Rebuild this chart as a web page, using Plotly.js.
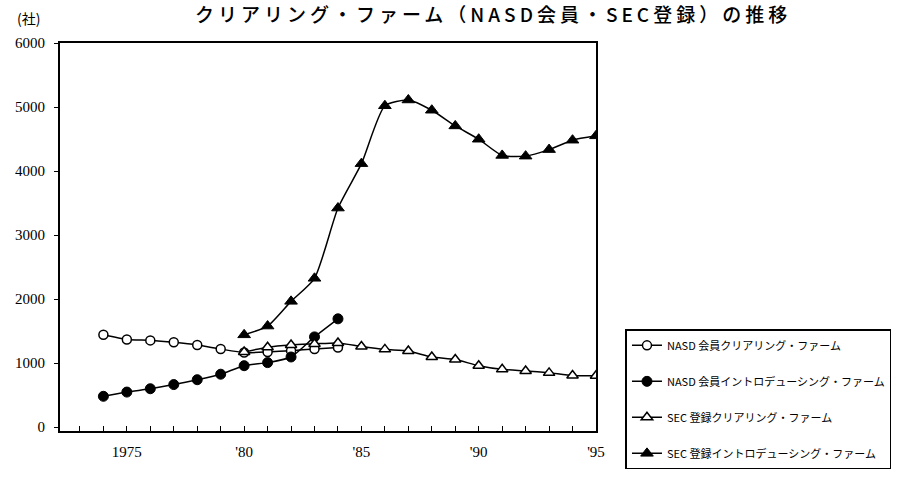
<!DOCTYPE html>
<html>
<head>
<meta charset="utf-8">
<script src="https://cdn.plot.ly/plotly-3.0.1.min.js"></script>
<style>html,body{margin:0;padding:0;background:#fff;}#chart{width:903px;height:481px;}#chart .gtitle{letter-spacing:4px;}</style>
</head>
<body>
<div id="chart"></div>
<script>
const yearsNasd = [1974, 1975, 1976, 1977, 1978, 1979, 1980, 1981, 1982, 1983, 1984];
const nasdClearing = [1442, 1370, 1355, 1325, 1284, 1220, 1165, 1175, 1195, 1220, 1245];
const nasdIntro = [482, 548, 600, 665, 741, 827, 960, 1008, 1096, 1410, 1692];
const yearsSec = [1980, 1981, 1982, 1983, 1984, 1985, 1986, 1987, 1988, 1989, 1990, 1991, 1992, 1993, 1994, 1995];
const secClearing = [1175, 1249, 1284, 1300, 1315, 1260, 1215, 1190, 1095, 1056, 960, 903, 878, 848, 807, 802];
const secIntro = [1442, 1579, 1965, 2325, 3422, 4116, 5020, 5110, 4950, 4705, 4497, 4244, 4233, 4335, 4482, 4550];
const seriesNames = ['NASD 会員クリアリング・ファーム', 'NASD 会員イントロデューシング・ファーム', 'SEC 登録クリアリング・ファーム', 'SEC 登録イントロデューシング・ファーム'];
const xTickVals = [1975, 1980, 1985, 1990, 1995];
const xTickText = ['1975', "'80", "'85", "'90", "'95"];
const yTickVals = [0, 1000, 2000, 3000, 4000, 5000, 6000];

const lineStyle = {color: '#000', width: 1.5, shape: 'spline', smoothing: 0.6};
const traces = [
  {x: yearsNasd, y: nasdClearing, name: seriesNames[0], legendgroup: 'a', mode: 'lines+markers', line: lineStyle,
   marker: {symbol: 'circle', size: 9, color: '#fff', line: {color: '#000', width: 1.5}}},
  {x: yearsNasd, y: nasdIntro, name: seriesNames[1], legendgroup: 'b', mode: 'lines+markers', line: lineStyle,
   marker: {symbol: 'circle', size: 10, color: '#000', line: {color: '#000', width: 1}}},
  {x: yearsSec, y: secClearing, name: seriesNames[2], legendgroup: 'c', mode: 'lines+markers', line: lineStyle,
   marker: {symbol: 'triangle-up', size: 10, color: '#fff', line: {color: '#000', width: 1.5}}},
  {x: yearsSec, y: secIntro, name: seriesNames[3], legendgroup: 'd', mode: 'lines+markers', line: lineStyle,
   marker: {symbol: 'triangle-up', size: 11, color: '#000', line: {color: '#000', width: 1}}}
];

const layout = {
  width: 903, height: 481,
  paper_bgcolor: '#fff', plot_bgcolor: '#fff',
  margin: {l: 60, r: 300, t: 43, b: 40},
  title: {text: 'クリアリング・ファーム（NASD会員・SEC登録）の推移', x: 0.546, xanchor: 'center', y: 0.968, yanchor: 'middle',
          font: {family: 'Noto Sans CJK JP', size: 19, color: '#000', weight: 500}},
  xaxis: {range: [1972.15, 1995], tickvals: xTickVals, ticktext: xTickText, ticks: 'inside', ticklen: 5, tickcolor: '#000',
          ticklabelstandoff: 6,
          minor: {dtick: 1, tick0: 1974, ticks: 'inside', ticklen: 5, tickcolor: '#000'},
          showgrid: false, zeroline: false, showline: true, linecolor: '#000', linewidth: 2, mirror: true,
          tickfont: {family: 'Liberation Serif', size: 15, color: '#000'}},
  yaxis: {range: [-60, 6000], tickvals: yTickVals, ticks: 'outside', ticklen: 4, tickcolor: '#000',
          ticklabelstandoff: 6,
          showgrid: false, zeroline: false, showline: true, linecolor: '#000', linewidth: 2, mirror: true,
          tickfont: {family: 'Liberation Serif', size: 15, color: '#000'}},
  showlegend: true,
  legend: {x: 1.055, xanchor: 'left', y: 0.262, yanchor: 'top', bordercolor: '#000', borderwidth: 1.5,
           bgcolor: '#fff', traceorder: 'grouped', tracegroupgap: 17,
           font: {family: 'Noto Sans CJK JP', size: 11, color: '#000'}},
  annotations: [{text: '(社)', xref: 'paper', yref: 'paper', x: -0.058, y: 1.065, xanchor: 'center', yanchor: 'middle',
                 showarrow: false, font: {family: 'Noto Sans CJK JP', size: 14, color: '#000'}}]
};

Plotly.newPlot('chart', traces, layout, {displayModeBar: false, staticPlot: true});
</script>
</body>
</html>
